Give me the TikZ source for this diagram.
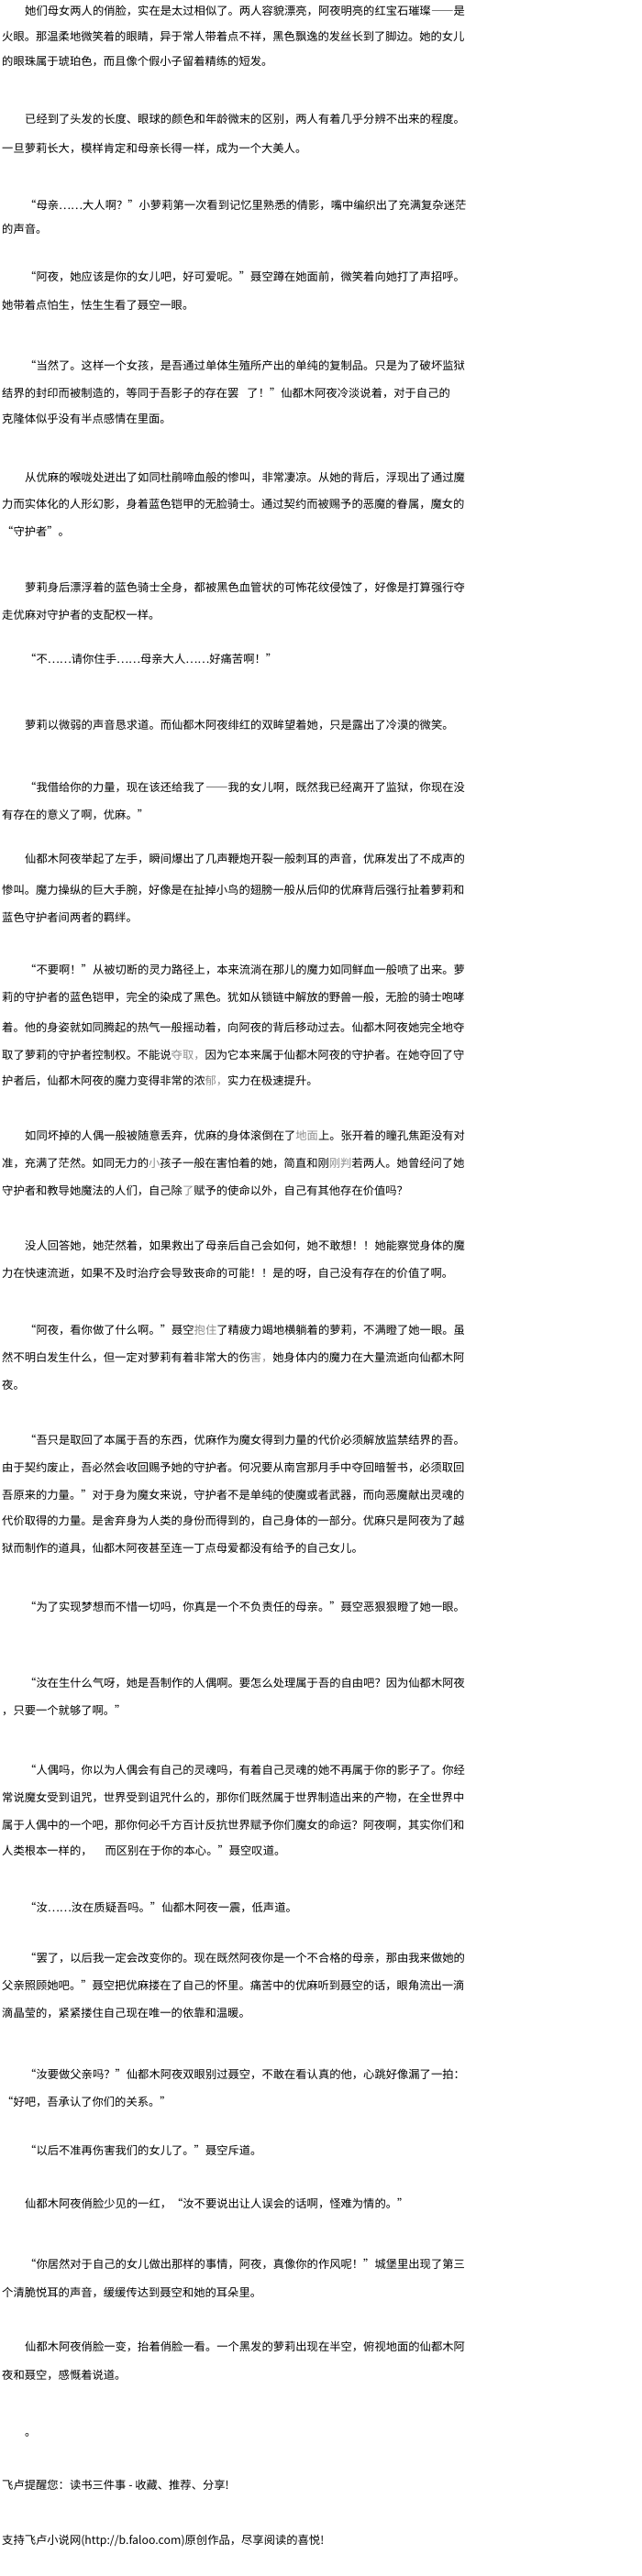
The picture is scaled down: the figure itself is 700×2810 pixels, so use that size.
\documentclass[tikz,border=0pt]{standalone}
\usepackage{fontspec}
\newfontfamily\zhfont{Noto Sans CJK SC}
\newfontfamily\zhfwfont[RawFeature=+fwid]{Noto Sans CJK SC}
\newcommand{\faded}[1]{\textcolor{black!45}{#1}}
\begin{document}
\begin{tikzpicture}[x=1pt,y=-1pt]
\tikzstyle{ln} = [anchor=base west,inner sep=0pt,font={\zhfwfont\fontsize{12.3}{15}\selectfont}] %text line
\tikzstyle{tip} = [ln,font={\zhfont\fontsize{12.3}{15}\selectfont}] %footer line
\fill[white](0,0)rectangle(700,2810);
\useasboundingbox(0,0)rectangle(700,2810);
\node[ln](p1a)at(27,17){她们母女两人的俏脸，实在是太过相似了。两人容貌漂亮，阿夜明亮的红宝石璀璨——是};
\node[ln](p1b)at(2,45){火眼。那温柔地微笑着的眼睛，异于常人带着点不祥，黑色飘逸的发丝长到了脚边。她的女儿};
\node[ln](p1c)at(2,72){的眼珠属于琥珀色，而且像个假小子留着精练的短发。};
\node[ln](p2a)at(27,135){已经到了头发的长度、眼球的颜色和年龄微末的区别，两人有着几乎分辨不出来的程度。};
\node[ln](p2b)at(2,166){一旦萝莉长大，模样肯定和母亲长得一样，成为一个大美人。};
\node[ln](p3a)at(27,228){“母亲……大人啊？”小萝莉第一次看到记忆里熟悉的倩影，嘴中编织出了充满复杂迷茫};
\node[ln](p3b)at(2,254){的声音。};
\node[ln](p4a)at(27,306){“阿夜，她应该是你的女儿吧，好可爱呢。”聂空蹲在她面前，微笑着向她打了声招呼。};
\node[ln](p4b)at(2,337){她带着点怕生，怯生生看了聂空一眼。};
\node[ln](p5a)at(27,403){“当然了。这样一个女孩，是吾通过单体生殖所产出的单纯的复制品。只是为了破坏监狱};
\node[ln](p5b)at(2,433){结界的封印而被制造的，等同于吾影子的存在罢\hspace{9pt}了！”仙都木阿夜冷淡说着，对于自己的};
\node[ln](p5c)at(2,461){克隆体似乎没有半点感情在里面。};
\node[ln](p6a)at(27,525){从优麻的喉咙处迸出了如同杜鹃啼血般的惨叫，非常凄凉。从她的背后，浮现出了通过魔};
\node[ln](p6b)at(2,554){力而实体化的人形幻影，身着蓝色铠甲的无脸骑士。通过契约而被赐予的恶魔的眷属，魔女的};
\node[ln](p6c)at(2,584){“守护者”。};
\node[ln](p7a)at(27,645){萝莉身后漂浮着的蓝色骑士全身，都被黑色血管状的可怖花纹侵蚀了，好像是打算强行夺};
\node[ln](p7b)at(2,675){走优麻对守护者的支配权一样。};
\node[ln](p8a)at(27,723){“不……请你住手……母亲大人……好痛苦啊！”};
\node[ln](p9a)at(27,795){萝莉以微弱的声音恳求道。而仙都木阿夜绯红的双眸望着她，只是露出了冷漠的微笑。};
\node[ln](p10a)at(27,863){“我借给你的力量，现在该还给我了——我的女儿啊，既然我已经离开了监狱，你现在没};
\node[ln](p10b)at(2,893){有存在的意义了啊，优麻。”};
\node[ln](p11a)at(27,941){仙都木阿夜举起了左手，瞬间爆出了几声鞭炮开裂一般刺耳的声音，优麻发出了不成声的};
\node[ln](p11b)at(2,975){惨叫。魔力操纵的巨大手腕，好像是在扯掉小鸟的翅膀一般从后仰的优麻背后强行扯着萝莉和};
\node[ln](p11c)at(2,1005){蓝色守护者间两者的羁绊。};
\node[ln](p12a)at(27,1062){“不要啊！”从被切断的灵力路径上，本来流淌在那儿的魔力如同鲜血一般喷了出来。萝};
\node[ln](p12b)at(2,1092){莉的守护者的蓝色铠甲，完全的染成了黑色。犹如从锁链中解放的野兽一般，无脸的骑士咆哮};
\node[ln](p12c)at(2,1125){着。他的身姿就如同腾起的热气一般摇动着，向阿夜的背后移动过去。仙都木阿夜她完全地夺};
\node[ln](p12d)at(2,1155){取了萝莉的守护者控制权。不能说\faded{夺取，}因为它本来属于仙都木阿夜的守护者。在她夺回了守};
\node[ln](p12e)at(2,1183){护者后，仙都木阿夜的魔力变得非常的浓\faded{郁，}实力在极速提升。};
\node[ln](p13a)at(27,1243){如同坏掉的人偶一般被随意丢弃，优麻的身体滚倒在了\faded{地面}上。张开着的瞳孔焦距没有对};
\node[ln](p13b)at(2,1273){准，充满了茫然。如同无力的\faded{小}孩子一般在害怕着的她，简直和刚\faded{刚判}若两人。她曾经问了她};
\node[ln](p13c)at(2,1303){守护者和教导她魔法的人们，自己除\faded{了}赋予的使命以外，自己有其他存在价值吗？};
\node[ln](p14a)at(27,1363){没人回答她，她茫然着，如果救出了母亲后自己会如何，她不敢想！！她能察觉身体的魔};
\node[ln](p14b)at(2,1393){力在快速流逝，如果不及时治疗会导致丧命的可能！！是的呀，自己没有存在的价值了啊。};
\node[ln](p15a)at(27,1455){“阿夜，看你做了什么啊。”聂空\faded{抱住}了精疲力竭地横躺着的萝莉，不满瞪了她一眼。虽};
\node[ln](p15b)at(2,1485){然不明白发生什么，但一定对萝莉有着非常大的伤\faded{害，}她身体内的魔力在大量流逝向仙都木阿};
\node[ln](p15c)at(2,1515){夜。};
\node[ln](p16a)at(27,1575){“吾只是取回了本属于吾的东西，优麻作为魔女得到力量的代价必须解放监禁结界的吾。};
\node[ln](p16b)at(2,1605){由于契约废止，吾必然会收回赐予她的守护者。何况要从南宫那月手中夺回暗誓书，必须取回};
\node[ln](p16c)at(2,1635){吾原来的力量。”对于身为魔女来说，守护者不是单纯的使魔或者武器，而向恶魔献出灵魂的};
\node[ln](p16d)at(2,1663){代价取得的力量。是舍弃身为人类的身份而得到的，自己身体的一部分。优麻只是阿夜为了越};
\node[ln](p16e)at(2,1693){狱而制作的道具，仙都木阿夜甚至连一丁点母爱都没有给予的自己女儿。};
\node[ln](p17a)at(27,1757){“为了实现梦想而不惜一切吗，你真是一个不负责任的母亲。”聂空恶狠狠瞪了她一眼。};
\node[ln](p18a)at(27,1840){“汝在生什么气呀，她是吾制作的人偶啊。要怎么处理属于吾的自由吧？因为仙都木阿夜};
\node[ln](p18b)at(2,1870){，只要一个就够了啊。”};
\node[ln](p19a)at(27,1935){“人偶吗，你以为人偶会有自己的灵魂吗，有着自己灵魂的她不再属于你的影子了。你经};
\node[ln](p19b)at(2,1965){常说魔女受到诅咒，世界受到诅咒什么的，那你们既然属于世界制造出来的产物，在全世界中};
\node[ln](p19c)at(2,1995){属于人偶中的一个吧，那你何必千方百计反抗世界赋予你们魔女的命运？阿夜啊，其实你们和};
\node[ln](p19d)at(2,2023){人类根本一样的，\hspace{14pt}而区别在于你的本心。”聂空叹道。};
\node[ln](p20a)at(27,2085){“汝……汝在质疑吾吗。”仙都木阿夜一震，低声道。};
\node[ln](p21a)at(27,2140){“罢了，以后我一定会改变你的。现在既然阿夜你是一个不合格的母亲，那由我来做她的};
\node[ln](p21b)at(2,2170){父亲照顾她吧。”聂空把优麻搂在了自己的怀里。痛苦中的优麻听到聂空的话，眼角流出一滴};
\node[ln](p21c)at(2,2200){滴晶莹的，紧紧搂住自己现在唯一的依靠和温暖。};
\node[ln](p22a)at(27,2267){“汝要做父亲吗？”仙都木阿夜双眼别过聂空，不敢在看认真的他，心跳好像漏了一拍：};
\node[ln](p22b)at(2,2297){“好吧，吾承认了你们的关系。”};
\node[ln](p23a)at(27,2350){“以后不准再伤害我们的女儿了。”聂空斥道。};
\node[ln](p24a)at(27,2408){仙都木阿夜俏脸少见的一红，“汝不要说出让人误会的话啊，怪难为情的。”};
\node[ln](p25a)at(27,2474){“你居然对于自己的女儿做出那样的事情，阿夜，真像你的作风呢！”城堡里出现了第三};
\node[ln](p25b)at(2,2505){个清脆悦耳的声音，缓缓传达到聂空和她的耳朵里。};
\node[ln](p26a)at(27,2564){仙都木阿夜俏脸一变，抬着俏脸一看。一个黑发的萝莉出现在半空，俯视地面的仙都木阿};
\node[ln](p26b)at(2,2595){夜和聂空，感慨着说道。};
\node[ln](p27a)at(27,2657){。};
\node[tip](tipa)at(2,2715){飞卢提醒您：读书三件事 - 收藏、推荐、分享!};
\node[tip](tipb)at(2,2775){支持飞卢小说网(http://b.faloo.com)原创作品，尽享阅读的喜悦!};
\end{tikzpicture}
\end{document}
